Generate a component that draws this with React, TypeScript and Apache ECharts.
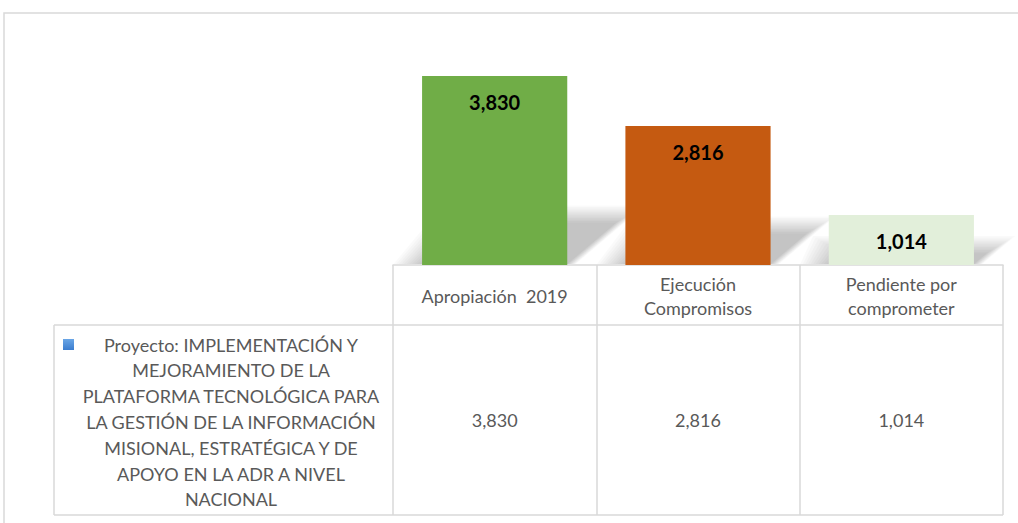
import React, { useEffect, useRef } from "react";
import * as echarts from "echarts";

// ---- data ----
const categories = ["Apropiación  2019", "Ejecución\nCompromisos", "Pendiente por\ncomprometer"];
const values = [3830, 2816, 1014];
const barColors = ["#70AD47", "#C55A11", "#E2EFDA"];
const seriesLabelLines = [
  "Proyecto: IMPLEMENTACIÓN Y",
  "MEJORAMIENTO DE LA",
  "PLATAFORMA TECNOLÓGICA PARA",
  "LA GESTIÓN DE LA INFORMACIÓN",
  "MISIONAL, ESTRATÉGICA Y DE",
  "APOYO EN LA ADR A NIVEL",
  "NACIONAL",
];
const yMax = 4500;

const fmt = (v: number) => v.toLocaleString("en-US");

const FONT = "Lato, 'Open Sans', sans-serif";
const LINE = "#d9d9d9";
const TXT = "#595959";

export default function App() {
  const ref = useRef<HTMLDivElement>(null);

  useEffect(() => {
    if (!ref.current) return;
    const chart = echarts.init(ref.current, null, { renderer: "svg" });
    const barWidthRatio = 0.714;

    const option: any = {
      animation: false,
      backgroundColor: "#ffffff",
      grid: { left: 393, right: 15, top: 43, bottom: 258, containLabel: false },
      yAxis: {
        type: "value",
        min: 0,
        max: yMax,
        show: false,
      },
      xAxis: [
        {
          type: "category",
          data: categories,
          position: "bottom",
          axisLine: { show: true, lineStyle: { color: LINE, width: 1.5 } },
          axisTick: {
            show: true,
            alignWithLabel: false,
            interval: 0,
            length: 250,
            lineStyle: { color: LINE, width: 1.5 },
          },
          axisLabel: {
            interval: 0,
            margin: 31,
            verticalAlign: "middle",
            fontFamily: FONT,
            fontSize: 18,
            lineHeight: 24,
            color: TXT,
          },
          splitLine: { show: false },
        },
        {
          type: "category",
          data: values.map(fmt),
          position: "bottom",
          offset: 0,
          axisLine: { show: false },
          axisTick: { show: false },
          axisLabel: {
            interval: 0,
            margin: 155,
            verticalAlign: "middle",
            fontFamily: FONT,
            fontSize: 18,
            color: TXT,
          },
          splitLine: { show: false },
        },
      ],
      series: [
        {
          type: "custom",
          xAxisIndex: 0,
          yAxisIndex: 0,
          z: 1,
          silent: true,
          data: values.map((v, i) => [i, v]),
          encode: { x: 0, y: 1 },
          renderItem: (params: any, api: any) => {
            const idx = api.value(0);
            const v = api.value(1);
            const top = api.coord([idx, v]);
            const bot = api.coord([idx, 0]);
            const w = api.size([1, 0])[0] * barWidthRatio;
            const x0 = top[0] - w / 2;
            const x1 = top[0] + w / 2;
            const yb = bot[1] - 1;
            const h = yb - top[1];
            const dx = 0.26 * h;
            const dy = 0.22 * h;
            const children: any[] = [];
            const layers = 12;
            for (let k = 0; k < layers; k++) {
              const e = (layers - 1 - k) * 2.6;
              children.push({
                type: "polygon",
                shape: {
                  points: [
                    [x0 - e, yb],
                    [x1 + e * 0.3, yb],
                    [x1 + dx + e, yb - dy - e * 0.6],
                    [x0 + dx - e, yb - dy - e * 0.6],
                  ],
                },
                style: { fill: "rgba(0,0,0,0.02)" },
              });
            }
            return { type: "group", children };
          },
        },
        {
          type: "bar",
          xAxisIndex: 0,
          yAxisIndex: 0,
          z: 3,
          barWidth: barWidthRatio * 100 + "%",
          data: values.map((v, i) => ({ value: v, itemStyle: { color: barColors[i] } })),
          label: {
            show: true,
            position: "insideTop",
            distance: 16,
            fontFamily: FONT,
            fontSize: 20,
            fontWeight: "bold",
            color: "#000000",
            formatter: (p: any) => fmt(p.value),
          },
        },
      ],
      graphic: [
        {
          type: "rect",
          z: 0,
          silent: true,
          shape: { x: 4, y: 13, width: 1100, height: 600 },
          style: { fill: "none", stroke: LINE, lineWidth: 1.5 },
        },
        {
          type: "line",
          silent: true,
          shape: { x1: 54, y1: 325, x2: 1003, y2: 325 },
          style: { stroke: LINE, lineWidth: 1.5 },
        },
        {
          type: "line",
          silent: true,
          shape: { x1: 54, y1: 515, x2: 1003, y2: 515 },
          style: { stroke: LINE, lineWidth: 1.5 },
        },
        {
          type: "line",
          silent: true,
          shape: { x1: 54, y1: 325, x2: 54, y2: 515 },
          style: { stroke: LINE, lineWidth: 1.5 },
        },
        {
          type: "rect",
          silent: true,
          shape: { x: 63, y: 339, width: 11, height: 11 },
          style: {
            fill: {
              type: "linear",
              x: 0,
              y: 0,
              x2: 0,
              y2: 1,
              colorStops: [
                { offset: 0, color: "#6aa6e6" },
                { offset: 1, color: "#3b7dcf" },
              ],
            },
          },
        },
        {
          type: "text",
          silent: true,
          x: 231,
          y: 422,
          style: {
            text: seriesLabelLines.join("\n"),
            align: "center",
            verticalAlign: "middle",
            fontFamily: FONT,
            fontSize: 18,
            lineHeight: 25.8,
            fill: TXT,
          },
        },
      ],
    };

    chart.setOption(option);
    return () => {
      chart.dispose();
    };
  }, []);

  return (
    <div
      ref={ref}
      style={{ position: "fixed", left: 0, top: 0, width: 1018, height: 523, background: "#fff" }}
    />
  );
}
